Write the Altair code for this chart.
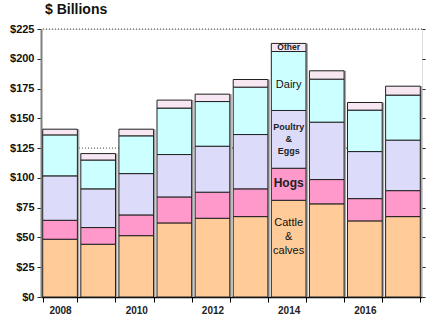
import altair as alt
import pandas as pd

years = [2008, 2009, 2010, 2011, 2012, 2013, 2014, 2015, 2016, 2017]
cattle = [48.5, 44.3, 51.5, 62.2, 66.1, 67.5, 81.2, 78.2, 63.9, 67.5]
hogs = [15.9, 14.0, 17.4, 21.8, 21.9, 23.3, 26.9, 20.4, 18.7, 21.8]
poultry = [37.3, 32.5, 34.7, 35.6, 38.6, 45.6, 48.5, 48.2, 39.5, 42.4]
dairy = [34.4, 24.2, 31.7, 39.0, 37.5, 39.8, 49.5, 36.1, 34.8, 37.8]
other = [4.8, 5.4, 5.6, 6.7, 6.2, 6.4, 6.8, 7.0, 6.4, 7.5]

categories = ["Cattle & calves", "Hogs", "Poultry & Eggs", "Dairy", "Other"]
colors = ["#FFCC99", "#FF99CC", "#DCDCFA", "#CCFFFF", "#F7E7F3"]
series = [cattle, hogs, poultry, dairy, other]

y_ticks = [0, 25, 50, 75, 100, 125, 150, 175, 200, 225]
grid_vals = [125, 225]

ann_text = ["Other", "Dairy", "Poultry|&|Eggs", "Hogs", "Cattle|&|calves"]
ann_y = [210, 178, 142.5, 95.5, 62]
ann_bold = [True, False, True, True, False]
ann_size = [8.5, 11, 9, 12, 11]
ann_year = 2014

rows = []
for k, (cat, vals) in enumerate(zip(categories, series)):
    for yr, v in zip(years, vals):
        rows.append({"year": yr, "cat": cat, "value": v, "order": k})
df = pd.DataFrame(rows)
tot = pd.DataFrame({"year": years, "total": [sum(s[i] for s in series) for i in range(len(years))]})
ann = pd.DataFrame({"year": [ann_year] * len(ann_text), "text": ann_text, "y": ann_y,
                    "bold": ann_bold, "size": ann_size})

FONT = "Liberation Sans"
xscale = alt.Scale(paddingInner=0.09, paddingOuter=0.045)
yscale = alt.Scale(domain=[0, 225], nice=False)

x_axis = alt.Axis(labelExpr="datum.value % 2 == 0 ? datum.label : ''",
                  labelAngle=0, tickBand="extent", labelFont=FONT,
                  labelFontSize=10, labelFontWeight="bold", labelColor="#222",
                  domainColor="#000", domainWidth=1.5, tickColor="#000",
                  tickSize=5, labelPadding=3, grid=False)
x_enc = alt.X("year:O", scale=xscale, title=None, axis=x_axis)

grid = alt.Chart(pd.DataFrame({"g": grid_vals})).mark_rule(
    strokeDash=[1, 2], color="#444", strokeWidth=1
).encode(y=alt.Y("g:Q", scale=yscale, axis=None))

shadow = alt.Chart(tot).mark_bar(color="#aaaaaa", xOffset=2).encode(
    x=x_enc,
    y=alt.Y("total:Q", scale=yscale, axis=None))

bars = alt.Chart(df).mark_bar(stroke="#222", strokeWidth=1).encode(
    x=x_enc,
    y=alt.Y("value:Q", stack="zero", scale=yscale, title=None,
            axis=alt.Axis(values=y_ticks, format="$.0f", labelFont=FONT,
                          labelFontSize=11, labelFontWeight="bold", labelColor="#111",
                          domainColor="#808080", domainWidth=2, tickColor="#222",
                          tickSize=4, grid=False, labelPadding=3)),
    color=alt.Color("cat:N", scale=alt.Scale(domain=categories, range=colors), legend=None),
    order=alt.Order("order:Q"),
)

txt_bold = alt.Chart(ann).transform_filter("datum.bold").mark_text(
    font=FONT, fontWeight="bold", color="#222", lineHeight=12, baseline="middle",
    lineBreak="|"
).encode(x=x_enc,
         y=alt.Y("y:Q", scale=yscale, axis=None),
         text="text:N", size=alt.Size("size:Q", scale=None))

txt_norm = alt.Chart(ann).transform_filter("!datum.bold").mark_text(
    font=FONT, color="#111", lineHeight=14, baseline="middle", lineBreak="|"
).encode(x=x_enc,
         y=alt.Y("y:Q", scale=yscale, axis=None),
         text="text:N", size=alt.Size("size:Q", scale=None))

right_axis = alt.Chart(tot).mark_rule(opacity=0).encode(
    y=alt.Y("total:Q", scale=yscale, title=None,
            axis=alt.Axis(orient="right", values=y_ticks, labels=False, domain=False,
                          tickColor="#222", tickSize=3, grid=False)))

chart = alt.layer(grid, shadow, bars, txt_bold, txt_norm, right_axis).resolve_axis(
    y="independent"
).properties(
    width=381, height=268,
    title=alt.TitleParams("$ Billions", anchor="start", frame="group", font=FONT,
                          fontSize=14, fontWeight="bold", color="#111", offset=6, dx=4),
    autosize=alt.AutoSizeParams(type="none"),
    padding={"left": 41, "top": 29, "right": 9, "bottom": 26},
).configure_view(stroke=None).configure(background="white")

chart.save("out.html", embed_options={"renderer": "svg", "actions": False})
